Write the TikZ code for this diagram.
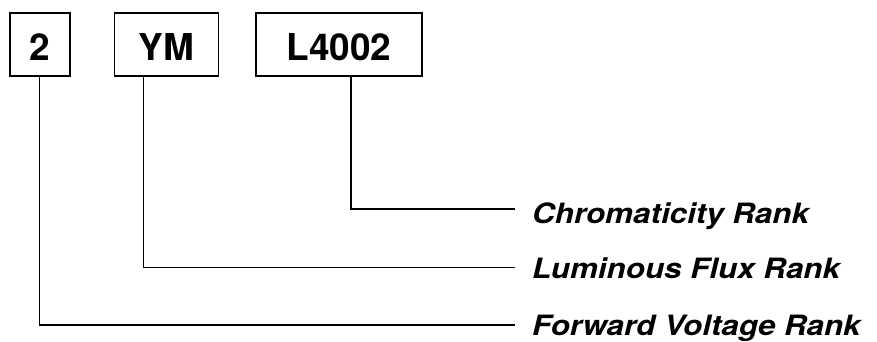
\documentclass[tikz,border=0pt]{standalone}
\usepackage{fontspec}
\setmainfont{TeX Gyre Heros}
\newfontfamily\lblfont[FakeStretch=1.12]{TeX Gyre Heros}
\begin{document}
\begin{tikzpicture}[x=1pt,y=1pt,
  codebox/.style={draw, line width=1.5pt, minimum height=63pt, inner sep=0pt,
    font=\fontsize{37}{37}\selectfont\bfseries, text height=32pt, text depth=0pt},
  lead/.style={line width=1.5pt},
  rank/.style={anchor=base west, inner sep=0pt,
    font=\lblfont\fontsize{28}{28}\selectfont\bfseries\itshape}]
\useasboundingbox (0,0) rectangle (877,341);

% code fields
\node[codebox, minimum width=60pt]  (fv) at (40.2,296.7)  {2};
\node[codebox, minimum width=104pt] (lf) at (166.5,296.7) {YM};
\node[codebox, minimum width=166pt] (cr) at (339,296.7)   {L4002};

% rank labels
\node[rank] (crl) at (532,118) {Chromaticity Rank};
\node[rank] (lfl) at (532,63)  {Luminous Flux Rank};
\node[rank] (fvl) at (532,6)   {Forward Voltage Rank};

% elbows and line ends
\coordinate (k3) at (351,132);    \coordinate (t3) at (515,132);
\coordinate (k2) at (143.5,73.3); \coordinate (t2) at (515,73.3);
\coordinate (k1) at (39.5,16);    \coordinate (t1) at (515,16);

\draw[lead] (cr.south -| k3) -- (k3) -- (t3);
\draw[lead] (lf.south -| k2) -- (k2) -- (t2);
\draw[lead] (fv.south -| k1) -- (k1) -- (t1);
\end{tikzpicture}
\end{document}
